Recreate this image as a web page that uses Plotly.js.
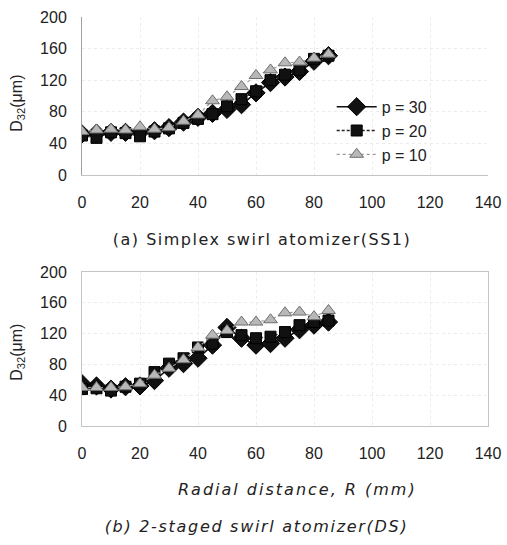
<!DOCTYPE html>
<html>
<head>
<meta charset="utf-8">
<script src="https://cdn.plot.ly/plotly-3.0.1.min.js"></script>
<style>
html,body{margin:0;padding:0;background:#fff;}
#chart{width:507px;height:545px;}
g.annotation[data-index="2"] text{letter-spacing:1.5px;}
g.annotation[data-index="3"] text{letter-spacing:2px;}
g.annotation[data-index="4"] text{letter-spacing:1.7px;}
</style>
</head>
<body>
<div id="chart"></div>
<script>
// Radial distance R (mm)
const R = [0, 5, 10, 15, 20, 25, 30, 35, 40, 45, 50, 55, 60, 65, 70, 75, 80, 85];
// (a) Simplex swirl atomizer (SS1), D32 (um)
const ss1_p30 = [52, 53, 54, 54, 54, 56, 60, 67, 73, 78, 83, 89, 104, 117, 124, 131, 144, 151];
const ss1_p20 = [50, 47, 54, 53, 49, 55, 59, 66, 71, 77, 87, 96, 106, 120, 127, 133, 147, 151];
const ss1_p10 = [55, 57, 58, 57, 61, 58, 60, 68, 76, 94, 99, 112, 126, 133, 142, 143, 148, 153];
// (b) 2-staged swirl atomizer (DS), D32 (um)
const ds_p30 = [55, 52, 48, 51, 52, 59, 75, 81, 88, 105, 128, 114, 105, 107, 114, 125, 131, 135];
const ds_p20 = [48, 49, 46, 51, 55, 70, 81, 88, 102, 107, 122, 118, 114, 116, 122, 131, 135, 137];
const ds_p10 = [50, 50, 50, 51, 55, 66, 75, 86, 102, 118, 124, 135, 135, 138, 147, 148, 142, 150];
const seriesNames = ['p = 30', 'p = 20', 'p = 10'];
const xTicks = [0, 20, 40, 60, 80, 100, 120, 140];
const yTicks = [0, 40, 80, 120, 160, 200];

const FONT = 'Liberation Sans, Arial, sans-serif';
const styles = [
  {marker: {symbol: 'diamond', size: 14, color: '#111', line: {color: '#000', width: 1}}, line: {color: '#111', width: 1.6, dash: 'solid'}},
  {marker: {symbol: 'square', size: 11, color: '#111', line: {color: '#000', width: 1}}, line: {color: '#222', width: 1.3, dash: '3px,2px'}},
  {marker: {symbol: 'triangle-up', size: 12, color: '#b8b8b8', line: {color: '#6e6e6e', width: 1}}, line: {color: '#9a9a9a', width: 1.2, dash: 'dot'}}
];
const topSeries = [ss1_p30, ss1_p20, ss1_p10];
const botSeries = [ds_p30, ds_p20, ds_p10];
const traces = [];
topSeries.forEach((ys, i) => traces.push(Object.assign({x: R, y: ys, name: seriesNames[i], type: 'scatter', mode: 'lines+markers', xaxis: 'x', yaxis: 'y', showlegend: true}, styles[i])));
botSeries.forEach((ys, i) => traces.push(Object.assign({x: R, y: ys, name: seriesNames[i], type: 'scatter', mode: 'lines+markers', xaxis: 'x2', yaxis: 'y2', showlegend: false}, styles[i])));

const xax = (anchor, mirror) => ({
  anchor: anchor, range: [0, 140], tickvals: xTicks, ticktext: xTicks.map(String),
  ticks: 'outside', ticklen: 13, tickcolor: 'rgba(0,0,0,0)',
  showgrid: true, gridcolor: '#ececec', griddash: 'dot', gridwidth: 1,
  zeroline: false, showline: true, linecolor: '#c4c4c4', linewidth: 1, mirror: mirror,
  tickfont: {family: FONT, size: 16, color: '#222'}
});
const yax = (anchor, dom, mirror) => ({
  anchor: anchor, domain: dom, range: [0, 200], tickvals: yTicks, ticktext: yTicks.map(String),
  ticks: 'outside', ticklen: 11, tickcolor: 'rgba(0,0,0,0)',
  showgrid: true, gridcolor: '#ececec', griddash: 'dot', gridwidth: 1,
  zeroline: false, showline: true, linecolor: mirror ? '#c4c4c4' : '#a0a0a0', linewidth: 1, mirror: mirror,
  tickfont: {family: FONT, size: 16, color: '#222'}
});

const layout = {
  width: 507, height: 545,
  margin: {l: 82, r: 19, t: 17, b: 119},
  paper_bgcolor: '#fff', plot_bgcolor: '#fff',
  font: {family: FONT, size: 16, color: '#222'},
  xaxis: xax('y', false),
  yaxis: yax('x', [0.6137, 1], false),
  xaxis2: xax('y2', true),
  yaxis2: yax('x2', [0, 0.3765], true),
  showlegend: true,
  legend: {x: 0.615, y: 0.822, xanchor: 'left', yanchor: 'top', bgcolor: 'rgba(255,255,255,0)', font: {family: FONT, size: 16, color: '#222'}, tracegroupgap: 0, itemwidth: 40},
  annotations: [
    {text: 'D<sub>32</sub>(μm)', xref: 'paper', yref: 'paper', x: -0.158, y: 0.79, textangle: -90, showarrow: false, xanchor: 'center', yanchor: 'middle', font: {family: FONT, size: 16, color: '#222'}},
    {text: 'D<sub>32</sub>(μm)', xref: 'paper', yref: 'paper', x: -0.158, y: 0.181, textangle: -90, showarrow: false, xanchor: 'center', yanchor: 'middle', font: {family: FONT, size: 16, color: '#222'}},
    {text: '(a) Simplex swirl atomizer(SS1)', xref: 'paper', yref: 'paper', x: 0.443, y: 0.455, showarrow: false, xanchor: 'center', yanchor: 'middle', font: {family: 'DejaVu Sans, sans-serif', size: 16, color: '#222'}},
    {text: '<i>Radial distance, R (mm)</i>', xref: 'paper', yref: 'paper', x: 0.53, y: -0.156, showarrow: false, xanchor: 'center', yanchor: 'middle', font: {family: 'DejaVu Sans, sans-serif', size: 16, color: '#222'}},
    {text: '<i>(b) 2-staged swirl atomizer(DS)</i>', xref: 'paper', yref: 'paper', x: 0.43, y: -0.246, showarrow: false, xanchor: 'center', yanchor: 'middle', font: {family: 'DejaVu Sans, sans-serif', size: 16, color: '#222'}}
  ]
};
Plotly.newPlot('chart', traces, layout, {displayModeBar: false, staticPlot: true});
</script>
</body>
</html>
